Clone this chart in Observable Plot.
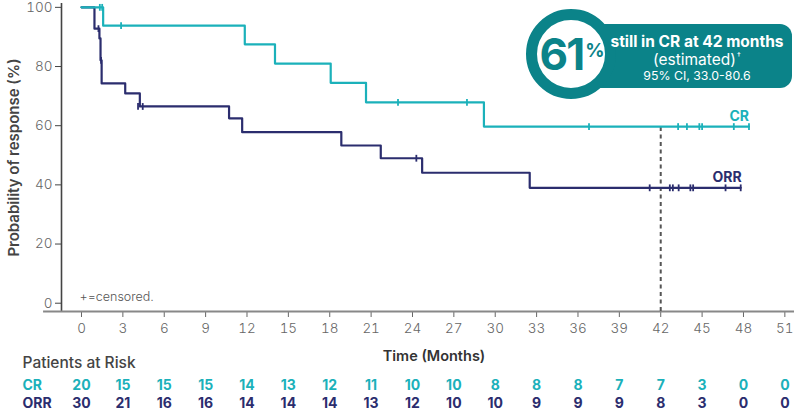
<!DOCTYPE html>
<html>
<head>
<meta charset="utf-8">
<script src="https://cdn.jsdelivr.net/npm/d3@7"></script>
<script src="https://cdn.jsdelivr.net/npm/@observablehq/plot@0.6"></script>
<style>
  body { margin: 0; background: #fff; font-family: "Inter", "Open Sans", sans-serif; }
  #wrap { position: relative; width: 798px; height: 416px; overflow: hidden; }
  .badge-rect { position: absolute; left: 585px; top: 23.5px; width: 207px; height: 64px; background: #0b8389; border-radius: 12px; }
  .badge-circle { position: absolute; left: 526px; top: 9px; width: 68px; height: 68px; border: 11px solid #0b8389; border-radius: 50%; background: #fff; }
  .big { position: absolute; left: 526px; top: 9px; width: 92px; height: 90px; display: flex; align-items: center; justify-content: center; color: #0b8389; font-weight: 700; font-size: 44px; letter-spacing: -2px; }
  .big sup { font-size: 19px; letter-spacing: 0; position: relative; top: -4px; margin-left: 2px; }
  .line { position: absolute; left: 600px; width: 194px; text-align: center; color: #fff; line-height: 1; white-space: nowrap; }
  .l1 { top: 34px; font-size: 15.5px; font-weight: 700; }
  .l2 { top: 51.5px; font-size: 15.5px; font-weight: 400; }
  .l2 span.dag { font-size: 8.5px; vertical-align: 6px; margin-left: 1px; }
  .l3 { top: 69.5px; font-size: 12.3px; font-weight: 400; }
</style>
</head>
<body>
<div id="wrap">
  <div id="chart"></div>
  <div class="badge-rect"></div>
  <div class="badge-circle"></div>
  <div class="big">61<sup>%</sup></div>
  <div class="line l1">still in CR at 42 months</div>
  <div class="line l2">(estimated)<span class="dag">†</span></div>
  <div class="line l3">95% CI, 33.0-80.6</div>
</div>
<script>
// ---- data ----
const crTimes  = [0, 1.57, 11.84, 14.03, 18.07, 20.63, 29.18, 48.4];
const crSurv   = [100, 93.8, 87.5, 81.0, 74.5, 67.9, 59.7, 59.7];
const crCensT  = [1.33, 1.5, 2.87, 22.95, 27.95, 36.8, 43.26, 43.9, 44.8, 45.0, 47.3, 48.4];
const crCensS  = [100, 100, 93.8, 67.9, 67.9, 59.7, 59.7, 59.7, 59.7, 59.7, 59.7, 59.7];

const orrTimes = [0, 0.94, 1.3, 1.38, 1.46, 3.17, 4.23, 10.7, 11.65, 18.84, 21.7, 24.7, 32.5, 47.8];
const orrSurv  = [100, 92.8, 89.5, 82.1, 74.3, 70.9, 66.5, 62.5, 57.8, 53.3, 49.0, 44.1, 39.0, 39.0];
const orrCensT = [1.23, 1.42, 4.1, 4.44, 24.28, 41.2, 42.66, 42.88, 43.3, 44.15, 44.35, 46.7, 47.8];
const orrCensS = [92.8, 82.1, 66.5, 66.5, 49.0, 39.0, 39.0, 39.0, 39.0, 39.0, 39.0, 39.0, 39.0];

const xTicks = [0, 3, 6, 9, 12, 15, 18, 21, 24, 27, 30, 33, 36, 39, 42, 45, 48, 51];
const yTicks = [0, 20, 40, 60, 80, 100];
const riskCR  = [20, 15, 15, 15, 14, 13, 12, 11, 10, 10, 8, 8, 8, 7, 7, 3, 0, 0];
const riskORR = [30, 21, 16, 16, 14, 14, 14, 13, 12, 10, 10, 9, 9, 9, 8, 3, 0, 0];
const landmark = 42;

// ---- styling ----
const TEAL = "#1bb1ba";
const NAVY = "#2b2d6e";
const GRAY = "#666";

const cr = crTimes.map((t, i) => ({t, s: crSurv[i]}));
const orr = orrTimes.map((t, i) => ({t, s: orrSurv[i]}));
const crC = crCensT.map((t, i) => ({t, s: crCensS[i]}));
const orrC = orrCensT.map((t, i) => ({t, s: orrCensS[i]}));

const vtick = {
  draw(ctx, size) {
    const h = Math.sqrt(size / Math.PI);
    ctx.moveTo(0, -h);
    ctx.lineTo(0, h);
  }
};

const xMin = -1.45, xMax = 51.7, xAxisStart = -2.75;
const yMin = -2.8, yMax = 101.3;

const chart = Plot.plot({
  width: 798,
  height: 416,
  marginLeft: 61,
  marginRight: 4,
  marginTop: 3,
  marginBottom: 105,
  style: {fontFamily: "Inter, 'Open Sans', sans-serif", background: "#fff"},
  x: {domain: [xMin, xMax]},
  y: {domain: [yMin, yMax]},
  marks: [
    // axes
    Plot.axisY(yTicks, {tickSize: 6, tickPadding: 3, fontSize: 13.5, fontWeight: 300, fill: GRAY, stroke: "#444", label: null}),
    Plot.axisX(xTicks, {tickSize: 6, tickPadding: 6, fontSize: 13.5, fontWeight: 300, fill: GRAY, stroke: "#666", label: null}),
    Plot.ruleX([xMin], {stroke: "#444", strokeWidth: 1.6}),
    Plot.ruleY([yMin], {x1: xAxisStart, x2: xMax, stroke: "#888", strokeWidth: 2}),
    // landmark dashed line
    Plot.ruleX([landmark], {y1: yMin, y2: crSurv[crSurv.length - 1], stroke: "#555", strokeWidth: 2, strokeDasharray: "4,3.5"}),
    // curves
    Plot.line(orr, {x: "t", y: "s", curve: "step-after", stroke: NAVY, strokeWidth: 2.2}),
    Plot.dot(orrC, {x: "t", y: "s", symbol: vtick, r: 3.4, stroke: NAVY, strokeWidth: 1.8}),
    Plot.line(cr, {x: "t", y: "s", curve: "step-after", stroke: TEAL, strokeWidth: 2.2}),
    Plot.dot(crC, {x: "t", y: "s", symbol: vtick, r: 3.4, stroke: TEAL, strokeWidth: 1.8}),
    // end labels
    Plot.text([cr[cr.length - 1]], {x: "t", y: "s", text: () => "CR", textAnchor: "end", lineAnchor: "middle", dy: -10, fill: TEAL, fontWeight: 700, fontSize: 14}),
    Plot.text([orr[orr.length - 1]], {x: "t", y: "s", text: () => "ORR", textAnchor: "end", lineAnchor: "middle", dx: 1, dy: -10, fill: NAVY, fontWeight: 700, fontSize: 14}),
    // y label
    Plot.text(["Probability of response (%)"], {frameAnchor: "left", textAnchor: "middle", dx: -47, rotate: -90, fontSize: 15, fontWeight: 600, fill: "#444"}),
    // censored note
    Plot.text(["+=censored."], {frameAnchor: "bottom-left", dx: 18, dy: -15, textAnchor: "start", lineAnchor: "middle", fontSize: 12.5, fontWeight: 300, fill: "#555"}),
    // x label
    Plot.text(["Time (Months)"], {frameAnchor: "bottom", dx: 6, dy: 45, lineAnchor: "middle", fontSize: 14.5, fontWeight: 600, fill: "#333"}),
    // risk table
    Plot.text(["Patients at Risk"], {frameAnchor: "bottom-left", dx: -39, dy: 52, textAnchor: "start", lineAnchor: "middle", fontSize: 15.5, fontWeight: 500, fill: "#444"}),
    Plot.text(["CR"], {frameAnchor: "bottom-left", dx: -39, dy: 74, textAnchor: "start", lineAnchor: "middle", fontSize: 14, fontWeight: 700, fill: TEAL}),
    Plot.text(["ORR"], {frameAnchor: "bottom-left", dx: -39, dy: 92.5, textAnchor: "start", lineAnchor: "middle", fontSize: 14, fontWeight: 700, fill: NAVY}),
    Plot.text(xTicks, {x: d => d, text: (d, i) => String(riskCR[i]), frameAnchor: "bottom", dy: 74, lineAnchor: "middle", fontSize: 14, fontWeight: 700, fill: TEAL}),
    Plot.text(xTicks, {x: d => d, text: (d, i) => String(riskORR[i]), frameAnchor: "bottom", dy: 92.5, lineAnchor: "middle", fontSize: 14, fontWeight: 700, fill: NAVY})
  ]
});
document.getElementById("chart").appendChild(chart);
</script>
</body>
</html>
